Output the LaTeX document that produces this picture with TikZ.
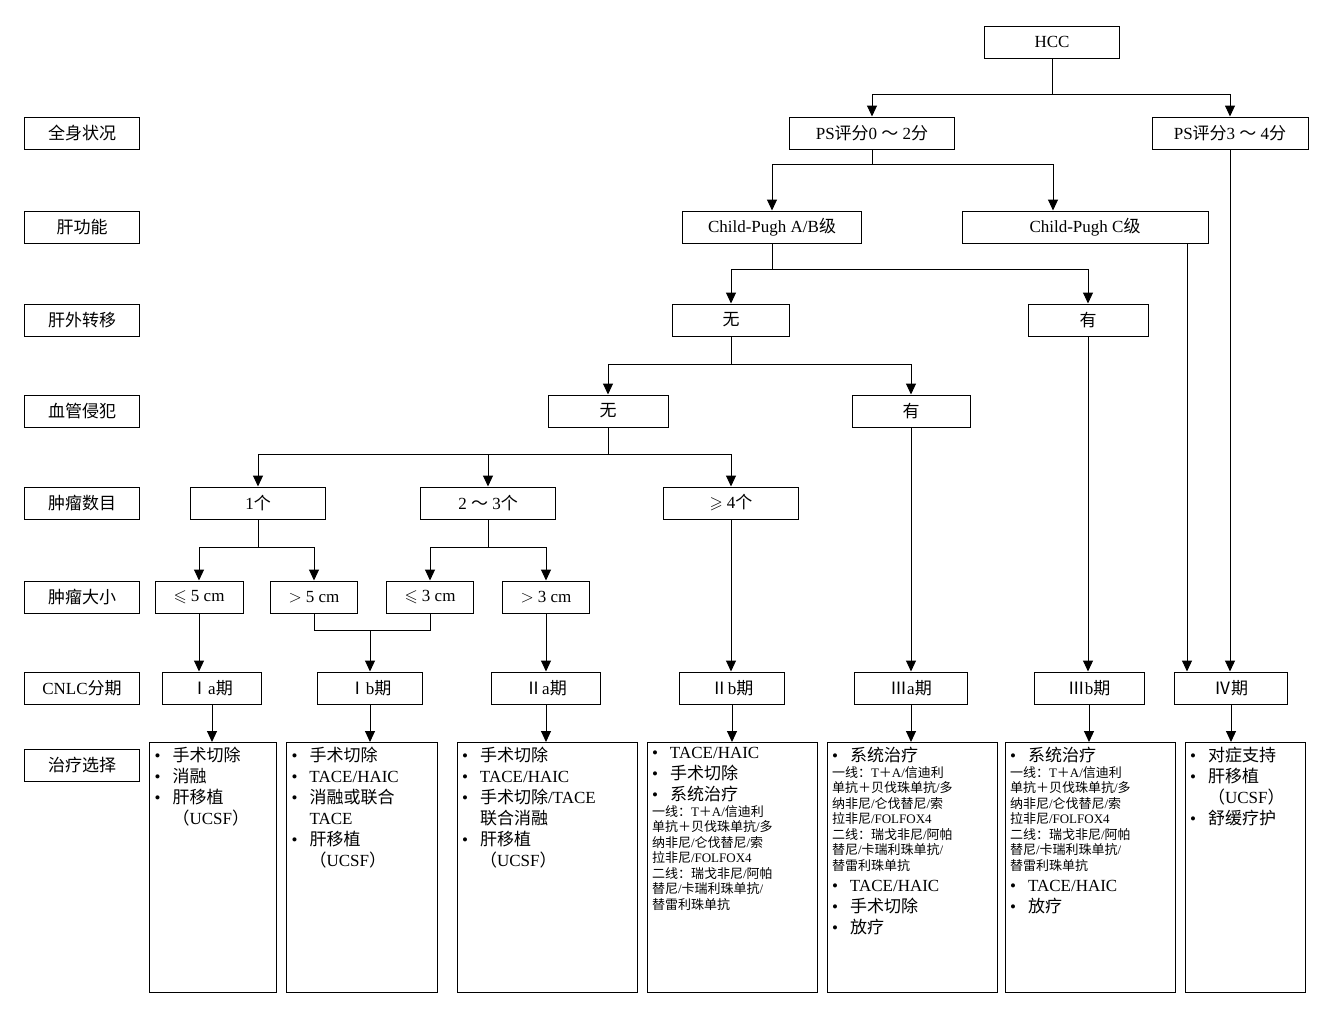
\documentclass[tikz,border=0pt]{standalone}
\usepackage{fontspec}
\usepackage{amssymb}
\setmainfont{Liberation Serif}
\newfontfamily\zh{Noto Sans CJK SC}
\usetikzlibrary{arrows.meta}
% automatic switch to the CJK font
\XeTeXinterchartokenstate=1
\XeTeXlinebreaklocale "zh"
\XeTeXlinebreakskip=0pt plus 1pt
\newXeTeXintercharclass\cjkclass
\newcount\cjkc
\def\cjkrange#1#2{\cjkc=#1\relax\loop\XeTeXcharclass\cjkc=\cjkclass\ifnum\cjkc<#2\advance\cjkc 1\repeat}
\cjkrange{"4E00}{"9FFF}
\cjkrange{"3000}{"303F}
\cjkrange{"FF00}{"FFEF}
\cjkrange{"2160}{"216F}
\XeTeXinterchartoks 0 \cjkclass={\begingroup\zh}
\XeTeXinterchartoks 4095 \cjkclass={\begingroup\zh}
\XeTeXinterchartoks \cjkclass 0={\endgroup}
\XeTeXinterchartoks \cjkclass 4095={\endgroup}
\newcommand\itm[1]{\par\noindent\hangindent=18pt\hangafter=1\makebox[18pt][l]{\textbullet}#1\par}
\newcommand\subl[1]{\par\noindent{\fontsize{13}{15.5}\selectfont #1\par}}
\newcommand\treat[2]{\parbox[t][240pt][t]{#1}{\fontsize{17}{21}\selectfont\raggedright #2}}
\tikzset{
  box/.style={draw, line width=1pt, minimum height=32pt, inner sep=2pt, font=\fontsize{17}{20}\selectfont},
  lab/.style={box, minimum width=115pt},
  tbox/.style={draw, line width=1pt, inner sep=5pt, anchor=north},
  ln/.style={line width=1pt},
  arr/.style={line width=1pt, -{Triangle[length=11pt,width=10pt]}}
}
\begin{document}
\begin{tikzpicture}[x=1pt,y=-1pt]
\useasboundingbox (0,0) rectangle (1332,1017);
% row labels
\node[lab] (l1) at (82,133) {全身状况};
\node[lab] (l2) at (82,227) {肝功能};
\node[lab] (l3) at (82,320) {肝外转移};
\node[lab] (l4) at (82,411) {血管侵犯};
\node[lab] (l5) at (82,503) {肿瘤数目};
\node[lab] (l6) at (82,597) {肿瘤大小};
\node[lab] (l7) at (82,688) {CNLC分期};
\node[lab] (l8) at (82,765) {治疗选择};
% tree
\node[box, minimum width=135pt] (hcc) at (1052,42) {HCC};
\node[box, minimum width=165pt] (ps1) at (872,133) {PS评分0 ～ 2分};
\node[box, minimum width=156pt] (ps2) at (1230,133) {PS评分3 ～ 4分};
\node[box, minimum width=179pt] (cpab) at (772,227) {Child-Pugh A/B级};
\node[box, minimum width=246pt] (cpc) at (1085,227) {Child-Pugh C级};
\node[box, minimum width=117pt] (mt0) at (731,320) {无};
\node[box, minimum width=120pt] (mt1) at (1088,320) {有};
\node[box, minimum width=120pt] (vi0) at (608,411) {无};
\node[box, minimum width=118pt] (vi1) at (911,411) {有};
\node[box, minimum width=135pt] (n1) at (258,503) {1个};
\node[box, minimum width=135pt] (n2) at (488,503) {2 ～ 3个};
\node[box, minimum width=135pt] (n4) at (731,503) {$\geqslant$ 4个};
\node[box, minimum width=88pt] (s1) at (199,597) {$\leqslant$ 5 cm};
\node[box, minimum width=87pt] (s2) at (314,597) {$>$ 5 cm};
\node[box, minimum width=87pt] (s3) at (430,597) {$\leqslant$ 3 cm};
\node[box, minimum width=87pt] (s4) at (546,597) {$>$ 3 cm};
\node[box, minimum width=99pt] (ia) at (212,688) {Ⅰa期};
\node[box, minimum width=105pt] (ib) at (370,688) {Ⅰb期};
\node[box, minimum width=109pt] (iia) at (546,688) {Ⅱa期};
\node[box, minimum width=105pt] (iib) at (732,688) {Ⅱb期};
\node[box, minimum width=113pt] (iiia) at (911,688) {Ⅲa期};
\node[box, minimum width=110pt] (iiib) at (1089,688) {Ⅲb期};
\node[box, minimum width=113pt] (iv) at (1231,688) {Ⅳ期};
% treatment boxes
\node[tbox] (t1) at (213,742) {\treat{117pt}{\itm{手术切除}\itm{消融}\itm{肝移植\newline（UCSF）}}};
\node[tbox] (t2) at (362,742) {\treat{141pt}{\itm{手术切除}\itm{TACE/HAIC}\itm{消融或联合\newline TACE}\itm{肝移植\newline（UCSF）}}};
\node[tbox] (t3) at (547,742) {\treat{170pt}{\itm{手术切除}\itm{TACE/HAIC}\itm{手术切除/TACE\newline 联合消融}\itm{肝移植\newline（UCSF）}}};
\node[tbox] (t4) at (732,742) {\treat{160pt}{\itm{TACE/HAIC}\itm{手术切除}\itm{系统治疗}\subl{一线：T＋A/信迪利\\单抗＋贝伐珠单抗/多\\纳非尼/仑伐替尼/索\\拉非尼/FOLFOX4\\二线：瑞戈非尼/阿帕\\替尼/卡瑞利珠单抗/\\替雷利珠单抗}}};
\node[tbox] (t5) at (912,742) {\treat{160pt}{\itm{系统治疗}\subl{一线：T＋A/信迪利\\单抗＋贝伐珠单抗/多\\纳非尼/仑伐替尼/索\\拉非尼/FOLFOX4\\二线：瑞戈非尼/阿帕\\替尼/卡瑞利珠单抗/\\替雷利珠单抗}\itm{TACE/HAIC}\itm{手术切除}\itm{放疗}}};
\node[tbox] (t6) at (1090,742) {\treat{160pt}{\itm{系统治疗}\subl{一线：T＋A/信迪利\\单抗＋贝伐珠单抗/多\\纳非尼/仑伐替尼/索\\拉非尼/FOLFOX4\\二线：瑞戈非尼/阿帕\\替尼/卡瑞利珠单抗/\\替雷利珠单抗}\itm{TACE/HAIC}\itm{放疗}}};
\node[tbox] (t7) at (1245,742) {\treat{110pt}{\itm{对症支持}\itm{肝移植\newline（UCSF）}\itm{舒缓疗护}}};
% connectors
\draw[ln] (hcc.south) -- ++(0,36) coordinate (b1);
\draw[arr] (b1) -| (ps1.north);
\draw[arr] (b1) -| (ps2.north);
\draw[ln] (ps1.south) -- ++(0,15) coordinate (b2);
\draw[arr] (b2) -| (cpab.north);
\draw[arr] (b2) -| (cpc.north west -| 1053,0);
\draw[ln] (cpab.south) -- ++(0,26) coordinate (b3);
\draw[arr] (b3) -| (mt0.north);
\draw[arr] (b3) -| (mt1.north);
\draw[ln] (mt0.south) -- ++(0,28) coordinate (b4);
\draw[arr] (b4) -| (vi0.north);
\draw[arr] (b4) -| (vi1.north);
\draw[ln] (vi0.south) -- ++(0,27) coordinate (b5);
\draw[arr] (b5) -| (n1.north);
\draw[arr] (b5) -| (n2.north);
\draw[arr] (b5) -| (n4.north);
\draw[ln] (n1.south) -- ++(0,28) coordinate (b6);
\draw[arr] (b6) -| (s1.north);
\draw[arr] (b6) -| (s2.north);
\draw[ln] (n2.south) -- ++(0,28) coordinate (b7);
\draw[arr] (b7) -| (s3.north);
\draw[arr] (b7) -| (s4.north);
\draw[ln] (s2.south) |- (s3.south |- 0,630) -- (s3.south);
\draw[arr] (ib.north |- 0,630) -- (ib.north);
\draw[arr] (s1.south) -- (ia.north -| s1.south);
\draw[arr] (s4.south) -- (iia.north -| s4.south);
\draw[arr] (n4.south) -- (iib.north -| n4.south);
\draw[arr] (vi1.south) -- (iiia.north -| vi1.south);
\draw[arr] (mt1.south) -- (iiib.north -| mt1.south);
\draw[arr] (cpc.south -| 1187,0) -- (iv.north -| 1187,0);
\draw[arr] (ps2.south) -- (iv.north -| ps2.south);
\foreach \s/\t in {ia/t1, ib/t2, iia/t3, iib/t4, iiia/t5, iiib/t6}
  \draw[arr] (\s.south) -- (\t.north -| \s.south);
\draw[arr] (iv.south) -- (t7.north -| iv.south);
\end{tikzpicture}
\end{document}
